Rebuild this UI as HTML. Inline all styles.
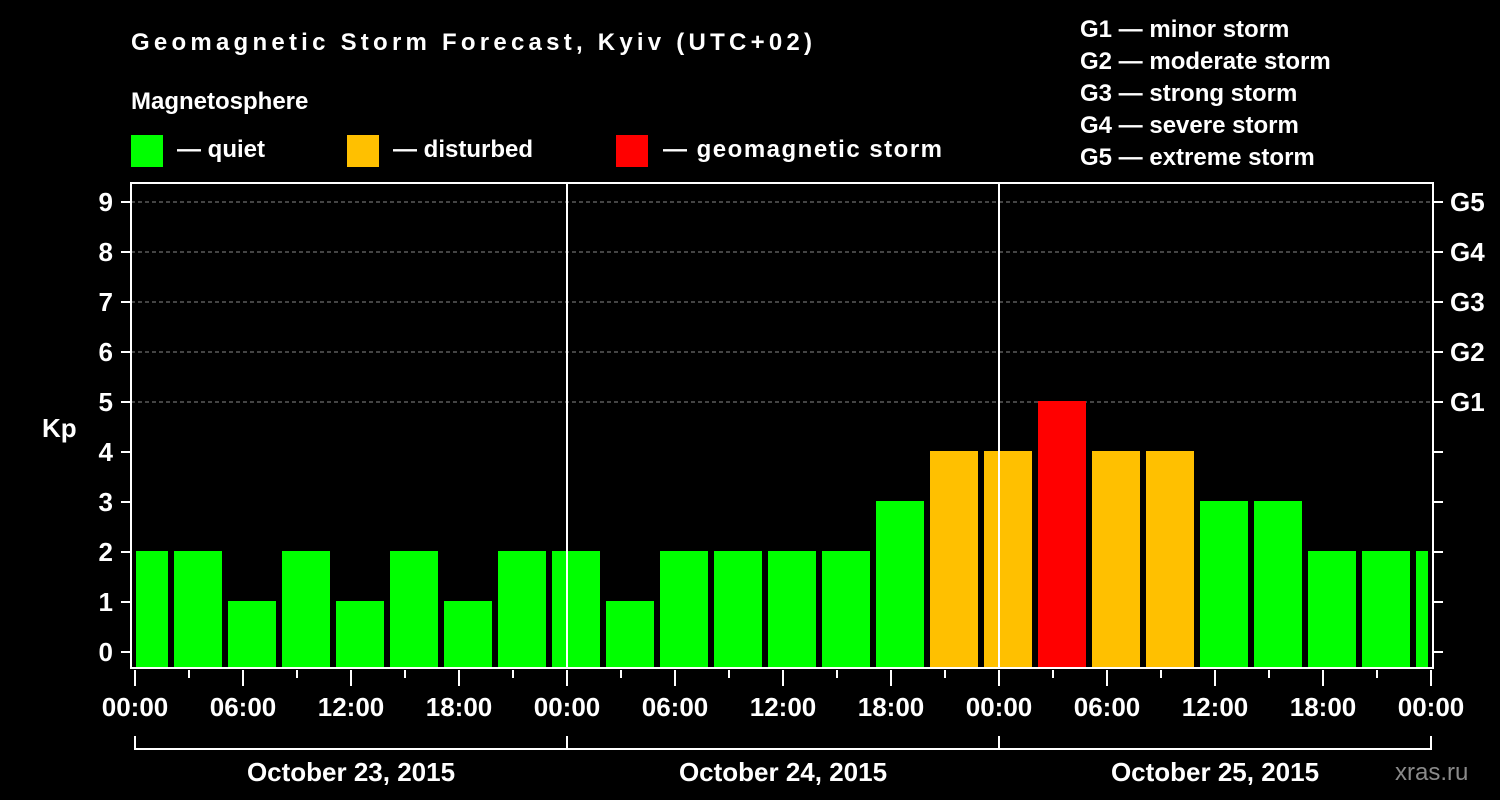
<!DOCTYPE html>
<html><head><meta charset="utf-8"><style>
html,body{margin:0;padding:0;background:#000;width:1500px;height:800px;overflow:hidden}
svg text{font-family:"Liberation Sans",Arial,sans-serif;font-weight:bold;fill:#fff}
</style></head><body>
<svg id="chart" width="1500" height="800" viewBox="0 0 1500 800" xmlns="http://www.w3.org/2000/svg">
<rect width="1500" height="800" fill="#000"/>
<text x="131" y="50" font-size="24" textLength="681">Geomagnetic Storm Forecast, Kyiv (UTC+02)</text>
<text x="131" y="109" font-size="24">Magnetosphere</text>
<g>
<rect x="131" y="135" width="32" height="32" fill="#00ff00"/>
<text x="177" y="157" font-size="24">— quiet</text>
<rect x="347" y="135" width="32" height="32" fill="#ffc000"/>
<text x="393" y="157" font-size="24">— disturbed</text>
<rect x="616" y="135" width="32" height="32" fill="#ff0000"/>
<text x="663" y="157" font-size="24" textLength="279">— geomagnetic storm</text>
</g>
<g font-size="24">
<text x="1080" y="37">G1 — minor storm</text>
<text x="1080" y="69">G2 — moderate storm</text>
<text x="1080" y="101">G3 — strong storm</text>
<text x="1080" y="133">G4 — severe storm</text>
<text x="1080" y="165">G5 — extreme storm</text>
</g>
<text x="42" y="437" font-size="26">Kp</text>
<g id="grid"></g>
<g id="bars"></g>
<g id="axes"></g>
<text x="1395" y="780" font-size="24" fill="#888" style="fill:#8a8a8a;font-weight:normal">xras.ru</text>
</svg>
<script>
const kpValues=[2,2,1,2,1,2,1,2,2,1,2,2,2,2,3,4,4,5,4,4,3,3,2,2,2];
const yTicks=[0,1,2,3,4,5,6,7,8,9];
const gLabels=["G1","G2","G3","G4","G5"];
const xTickLabels=["00:00","06:00","12:00","18:00","00:00","06:00","12:00","18:00","00:00","06:00","12:00","18:00","00:00"];
const dayLabels=["October 23, 2015","October 24, 2015","October 25, 2015"];
const NS="http://www.w3.org/2000/svg";
const L=131,R=1433,T=183,B=668,X0=135,PXH=18;
const xH=h=>X0+h*PXH;
const yK=k=>652-k*50;
function mk(tag,attrs,parent){const e=document.createElementNS(NS,tag);for(const k in attrs)e.setAttribute(k,attrs[k]);parent.appendChild(e);return e;}
const grid=document.getElementById('grid'),bars=document.getElementById('bars'),axes=document.getElementById('axes');
yTicks.forEach(k=>{if(k>=5){const g=mk('line',{x1:L,x2:R,y1:yK(k),y2:yK(k),stroke:'#888','stroke-width':1,'stroke-dasharray':'4,3'},grid);

}});
kpValues.forEach((v,i)=>{
 const h=i*3;let x1=xH(h)-15,x2=xH(h)+33;x1=Math.max(x1,136);x2=Math.min(x2,1428);
 const col=v>=5?'#ff0000':(v>=4?'#ffc000':'#00ff00');
 const r=mk('rect',{x:x1,y:yK(v)-1,width:x2-x1,height:B-yK(v)+1,fill:col},bars);
 
 
});
[1,2].forEach(d=>{const l=mk('line',{x1:xH(24*d),x2:xH(24*d),y1:T,y2:B,stroke:'#fff','stroke-width':2},axes);

});
const fr=mk('rect',{x:L,y:T,width:R-L,height:B-T,fill:'none',stroke:'#fff','stroke-width':2},axes);


yTicks.forEach(k=>{
 mk('line',{x1:121,x2:L,y1:yK(k),y2:yK(k),stroke:'#fff','stroke-width':2},axes);
 mk('line',{x1:R,x2:1443,y1:yK(k),y2:yK(k),stroke:'#fff','stroke-width':2},axes);
 const t=mk('text',{x:113,y:yK(k)+9,'font-size':26,'text-anchor':'end'},axes);t.textContent=k;
 
 
});
gLabels.forEach((g,i)=>{const t=mk('text',{x:1450,y:yK(5+i)+9,'font-size':26},axes);t.textContent=g;

});
for(let h=0;h<=72;h+=3){const major=h%6===0;mk('line',{x1:xH(h),x2:xH(h),y1:670,y2:major?686:678,stroke:'#fff','stroke-width':2},axes);}
xTickLabels.forEach((s,i)=>{const t=mk('text',{x:xH(i*6),y:716,'font-size':26,'text-anchor':'middle'},axes);t.textContent=s;

});
mk('line',{x1:xH(0),x2:xH(72),y1:749,y2:749,stroke:'#fff','stroke-width':2},axes);
for(let d=0;d<=3;d++)mk('line',{x1:xH(24*d),x2:xH(24*d),y1:736,y2:750,stroke:'#fff','stroke-width':2},axes);
dayLabels.forEach((s,i)=>{const t=mk('text',{x:xH(24*i+12),y:781,'font-size':26,'text-anchor':'middle'},axes);t.textContent=s;

});
</script>
</body></html>
